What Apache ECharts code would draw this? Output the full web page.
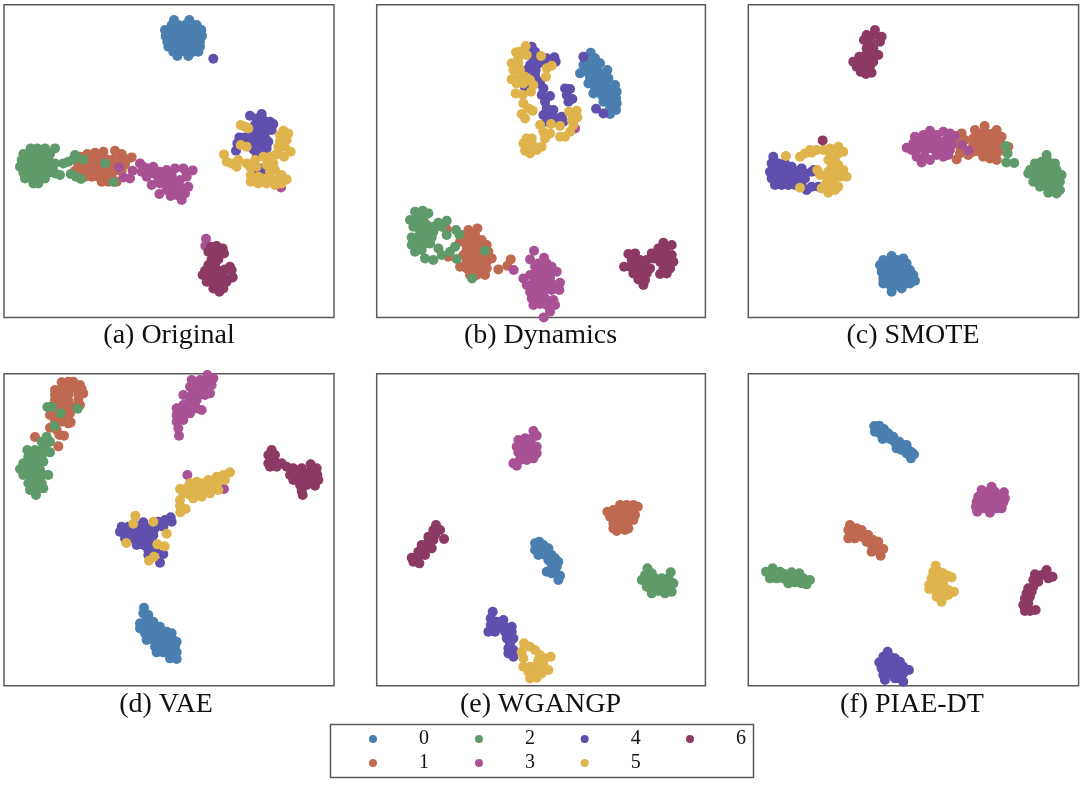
<!DOCTYPE html>
<html><head><meta charset="utf-8">
<style>html,body{margin:0;padding:0;background:#fff}#c{width:1080px;height:786px}</style>
<script src="https://cdn.jsdelivr.net/npm/echarts@6/dist/echarts.min.js"></script>
</head><body><div id="c"></div>
<script>
const classNames=['0','1','2','3','4','5','6'];
const classColors=['#4A7FB0','#BF6A50','#5F9A6B','#A95195','#604FAD','#E0B44C','#8C3A64'];
const captions=['(a) Original','(b) Dynamics','(c) SMOTE','(d) VAE','(e) WGANGP','(f) PIAE-DT'];

// t-SNE embedding positions, per panel and class (x,y pairs)
const a0=[522,60,568,60,515,75,535,75,555,75,575,75,590,75,495,90,512,90,530,90,550,90,570,90,590,90,604,90,497,108,515,108,535,108,555,108,575,108,595,108,606,108,502,125,520,125,540,125,560,125,580,125,600,125,505,140,520,140,540,140,560,140,580,140,600,140,520,155,540,155,560,155,580,155,595,155,532,168,565,168];
const a1=[240,470,262,462,285,458,310,455,345,452,365,462,395,472,260,478,280,478,300,478,320,478,340,478,360,478,380,478,235,495,255,495,275,495,295,495,315,495,335,495,355,495,375,495,225,512,245,512,265,512,285,512,305,512,325,512,345,512,365,512,255,530,275,530,295,530,315,530,335,530,305,545,325,545,350,545];
const a2=[92,445,112,445,135,445,165,445,70,462,90,462,110,462,130,462,150,462,65,480,85,480,105,480,125,480,145,480,60,500,80,500,100,500,120,500,140,500,70,518,90,518,110,518,130,518,145,518,75,535,95,535,115,535,135,535,100,550,115,550,165,490,190,490,205,485,225,465,220,478,250,478,165,520,180,525,212,522,228,530,243,537,316,490,341,546,160,512];
const a3=[357,502,398,512,370,532,390,535,420,490,430,500,425,515,445,505,460,500,440,530,460,520,480,515,455,555,478,582,475,535,495,530,515,525,500,510,525,505,550,505,578,511,560,520,480,550,500,550,520,545,540,540,560,530,500,570,520,565,540,560,565,560,512,588,530,585,545,600,555,580,440,515,843,562,618,716,616,738];
const a4=[640,176,750,347,785,342,770,355,790,360,810,365,765,375,785,378,805,378,820,372,755,395,775,395,795,395,815,390,718,412,735,412,755,412,775,412,795,412,712,430,730,430,750,430,770,430,790,430,805,425,708,452,760,448,780,448,800,445,770,460,790,458,780,505,765,515,790,515];
const a5=[735,380,722,375,745,385,850,392,865,400,840,405,860,420,840,425,855,440,835,440,872,455,852,470,835,460,722,435,740,440,672,463,680,485,695,490,715,480,710,500,740,490,750,500,765,480,790,470,810,470,825,465,770,500,800,495,820,490,825,510,810,515,845,525,860,538,752,525,752,545,775,530,790,535,810,535,830,540,845,550,775,550,800,550,825,555];
const a6=[633,740,650,738,668,745,625,755,640,760,660,760,672,760,635,778,655,778,625,795,645,795,690,800,675,808,615,812,635,812,655,812,675,812,695,810,608,825,630,830,650,830,670,830,698,832,620,845,640,848,660,848,680,845,640,865,658,875,670,865];

const b0=[662,158,650,175,675,175,690,190,640,195,660,195,680,205,630,220,650,215,670,220,690,220,712,210,660,232,700,226,655,250,675,240,695,240,715,235,735,255,680,250,670,280,690,260,710,260,740,275,675,265,700,275,725,270,695,285,715,285,738,295,700,305,720,305,740,310,720,325,738,330,720,342];
const b1=[230,688,295,690,322,685,275,705,295,705,315,705,335,720,270,725,290,725,310,725,350,735,330,730,290,745,310,745,330,745,355,755,280,765,300,765,320,765,340,765,365,775,235,770,270,800,290,785,310,785,330,785,350,785,290,805,310,805,330,805,350,805,385,808,300,825,320,825,345,825,412,797,422,778];
const b2=[135,635,158,632,175,640,120,660,140,655,160,655,205,668,230,662,130,680,150,675,170,675,190,680,215,680,150,695,170,695,190,695,125,712,145,712,165,712,185,712,230,705,258,690,268,703,125,735,145,730,165,730,180,730,135,755,155,750,165,775,190,780,205,745,215,765,240,755,255,740,260,777,345,752,306,835];
const b3=[615,385,431,810,492,752,480,778,522,773,505,790,530,790,545,800,495,800,515,810,540,815,560,815,460,835,480,825,500,825,520,830,540,835,570,848,470,855,490,850,510,850,530,855,550,855,480,875,500,875,520,875,545,870,568,870,485,895,505,895,525,895,550,900,490,915,510,912,530,915,555,915,540,935,521,952];
const b4=[640,170,678,326,700,340,485,140,495,155,490,175,505,190,497,210,480,195,495,225,553,172,557,185,530,175,525,190,500,240,510,250,520,265,515,285,540,288,465,262,470,210,525,305,530,325,550,330,520,345,540,345,560,355,575,350,530,365,550,365,585,265,600,267,590,285,607,297,595,305,580,365];
const b5=[467,138,450,155,438,157,470,165,445,175,425,190,445,190,430,210,450,210,425,238,445,235,465,230,480,240,490,255,440,250,460,250,483,275,437,280,458,285,513,168,545,197,530,205,528,230,460,310,475,325,488,332,455,342,465,355,597,335,620,332,622,352,605,360,610,375,600,395,585,410,570,410,543,372,570,378,510,375,520,395,540,400,525,415,470,415,485,415,460,430,480,430,495,440,515,440,465,452,480,460,500,450];
const b6=[880,728,905,735,865,745,885,750,775,762,795,760,845,760,865,765,885,768,905,765,785,780,810,780,830,780,850,775,895,785,910,785,870,785,762,800,780,800,800,800,820,800,880,805,900,805,790,820,810,820,830,820,870,822,890,820,805,838,825,840,820,855,840,805];

const c0=[455,768,430,780,450,785,470,780,490,775,420,795,440,800,460,800,480,795,500,790,510,810,425,815,445,820,465,820,485,815,505,820,520,825,430,835,450,840,470,835,490,835,510,835,525,842,430,850,450,855,470,855,490,855,510,850,455,875,485,865];
const c1=[734,378,705,390,770,390,665,400,720,400,740,400,760,400,785,410,650,418,675,420,700,415,720,420,740,420,760,420,640,430,780,430,700,435,720,440,740,440,760,440,805,440,660,460,685,465,700,455,720,455,740,455,760,455,775,455,650,478,730,470,750,475,770,480,660,440];
const c2=[797,438,803,460,799,487,823,489,920,465,885,490,905,485,925,485,945,490,870,510,890,505,910,505,930,505,950,510,865,520,885,525,905,525,925,525,945,525,965,525,880,545,900,545,920,545,940,545,960,545,900,560,920,560,940,565,960,570,925,578,950,580];
const c3=[570,392,525,410,550,405,570,410,590,405,610,395,630,400,645,408,500,443,520,430,540,425,560,430,580,425,600,425,620,420,635,430,515,450,535,445,555,450,575,445,595,445,615,445,630,450,530,470,545,487,570,480,555,470,590,465,610,470,625,465,667,435,686,451];
const c4=[100,470,95,490,115,490,135,490,155,500,185,505,90,515,110,510,130,510,150,515,170,515,195,520,215,515,95,535,115,530,135,530,155,535,175,535,195,535,105,555,125,555,145,555,165,555,185,555,200,570,215,560,235,560,222,510];
const c5=[210,450,230,450,250,450,270,445,295,440,180,470,195,460,215,458,270,460,295,460,310,455,138,468,265,480,285,480,275,500,295,495,232,510,240,525,265,515,285,515,310,510,320,530,262,535,282,535,300,530,255,555,275,555,295,560,265,578,285,570,180,563,245,565];
const c6=[405,90,380,105,400,105,425,110,372,120,392,125,420,125,380,145,400,145,415,165,358,170,378,165,398,165,340,185,360,185,380,185,400,185,350,200,370,200,390,200,362,215,378,222,395,218,248,421];

const d0=[432,728,430,745,445,750,440,765,460,770,420,775,440,785,460,785,480,785,500,800,420,790,435,805,455,805,475,805,495,805,515,805,440,825,460,825,480,825,500,825,520,825,530,830,465,845,485,845,505,845,525,845,470,862,490,862,510,862,530,862,510,880,530,882];
const d1=[185,52,205,50,220,50,240,60,165,75,185,70,205,70,225,70,245,72,250,85,165,90,185,90,205,90,235,90,165,105,185,108,205,108,235,105,240,120,155,125,175,125,195,125,215,125,150,150,170,150,190,150,210,145,165,170,185,170,205,175,212,172,150,188,170,195,178,210,192,212,105,216,175,244];
const d2=[142,126,155,126,182,145,233,131,164,183,140,215,150,230,125,230,135,245,82,255,105,255,125,255,150,262,85,275,105,275,125,275,70,295,90,295,110,295,130,290,60,312,80,315,100,315,120,315,70,330,90,335,110,335,130,330,145,330,85,355,105,355,125,355,90,375,110,375,130,370,108,390];
const d3=[622,30,640,40,575,45,600,45,620,50,635,60,570,65,590,65,610,70,630,85,550,90,575,90,595,90,615,90,570,105,590,105,530,130,550,120,570,125,590,130,605,135,530,150,550,145,570,145,530,170,550,165,535,190,537,212,562,330,672,372];
const d4=[512,457,495,465,515,470,475,470,490,485,430,472,365,485,385,485,405,480,425,490,445,490,465,490,360,500,380,505,400,505,420,505,440,505,460,510,375,520,395,520,415,520,435,520,455,525,410,540,430,540,450,540,445,555,465,555,490,567,445,570,480,593];
const d5=[690,322,670,330,650,335,625,345,675,345,655,350,635,350,570,355,590,350,610,355,540,372,560,370,580,370,600,370,620,370,640,365,655,375,550,385,570,390,590,390,605,395,630,385,580,400,540,405,540,422,557,432,541,442,406,452,400,476,460,470,500,506,379,534,472,538,494,544,462,575,447,587];
const d6=[815,255,805,270,825,270,805,295,825,290,845,295,810,305,830,305,860,305,880,310,905,310,932,298,950,310,870,330,890,325,910,325,930,320,952,330,880,345,900,345,920,345,940,345,955,345,900,360,920,360,945,362,905,378,908,390];

const e0=[508,530,495,535,520,540,495,555,515,555,535,550,505,570,525,570,545,570,535,585,555,580,565,590,545,600,560,605,530,620,550,620,570,632,565,645,545,625];
const e1=[750,420,770,420,790,420,803,425,712,440,730,435,750,435,770,435,790,435,720,455,740,455,760,455,780,455,795,450,730,475,750,475,770,475,790,465,730,490,740,498,765,495,775,490];
const e2=[832,610,845,625,825,630,902,622,815,645,835,645,855,640,875,640,895,640,910,655,830,665,850,660,870,660,890,660,845,685,865,678,885,685,905,680];
const e3=[490,198,500,212,445,225,465,220,485,220,440,245,460,240,480,240,500,245,445,262,465,260,485,262,500,265,430,295,450,285,470,285,490,280,440,302];
const e4=[368,740,362,760,380,770,400,765,362,780,385,785,405,785,425,785,355,800,375,800,405,800,425,800,410,820,430,820,420,835,415,850,430,855,415,865,430,875];
const e5=[462,835,480,845,495,855,455,860,510,870,460,880,542,875,525,880,505,885,460,905,480,905,500,900,520,900,535,915,475,920,495,920,515,925,480,940,500,938,510,885];
const e6=[198,480,210,495,190,495,175,515,195,510,222,522,155,540,175,530,190,525,145,560,165,555,185,550,125,578,145,575,165,570,130,590,148,595];

const f0=[403,183,418,182,432,192,405,200,420,205,435,205,428,222,445,205,460,215,450,222,465,232,478,230,470,250,488,240,500,240,485,255,505,255,515,262,500,265,522,268,513,280];
const f1=[330,480,350,490,325,495,345,505,365,495,325,520,345,520,365,515,385,510,380,530,400,525,395,540,415,530,430,552,410,555,395,560,422,572];
const f2=[98,610,78,620,100,625,120,620,135,628,155,622,178,625,90,640,110,640,130,640,150,635,170,640,190,640,210,645,145,655,165,652,185,655,200,658];
const f3=[755,365,725,375,745,380,765,380,792,382,715,395,735,395,755,395,775,395,795,400,710,410,730,412,750,412,770,412,790,412,708,425,730,430,750,430,770,430,785,430,712,440,750,443];
const f4=[443,860,430,875,450,875,465,880,418,892,438,892,458,892,480,890,425,910,445,910,465,910,490,905,507,915,430,930,450,925,470,925,490,925,435,945,465,940,490,950,478,940];
const f5=[587,602,580,620,597,620,610,625,625,632,635,637,575,640,595,640,615,640,568,660,590,655,610,660,568,672,585,675,605,675,625,675,642,680,590,695,610,695,625,690,605,710];
const f6=[920,615,938,635,885,628,905,630,925,640,880,645,895,650,865,670,880,665,860,685,875,680,855,700,870,695,850,720,865,715,855,738,870,738,887,735];

const panelData=[[a0,a1,a2,a3,a4,a5,a6],[b0,b1,b2,b3,b4,b5,b6],[c0,c1,c2,c3,c4,c5,c6],[d0,d1,d2,d3,d4,d5,d6],[e0,e1,e2,e3,e4,e5,e6],[f0,f1,f2,f3,f4,f5,f6]];

const frames=[
 {left:4,top:4.7,width:330,height:312.7,x:[12,1002],y:[14,952],cx:169},
 {left:376.7,top:4.7,width:328.7,height:312.7,x:[20,1006],y:[14,952],cx:540.5},
 {left:748.3,top:4.7,width:330.3,height:312.7,x:[25,1016],y:[14,952],cx:913},
 {left:4,top:373.7,width:330,height:312,x:[12,1002],y:[26,962],cx:166},
 {left:376.7,top:373.7,width:328.7,height:312,x:[20,1006],y:[26,962],cx:540.5},
 {left:748.3,top:373.7,width:330.3,height:312,x:[25,1016],y:[26,962],cx:912}];
const captionY=[336,336,336,705,705,705];

const pairs=f=>{const o=[];for(let i=0;i<f.length;i+=2)o.push([f[i],f[i+1]]);return o;};
const grid=[],xAxis=[],yAxis=[],series=[],title=[];
frames.forEach((f,p)=>{
  grid.push({show:true,left:f.left,top:f.top,width:f.width,height:f.height,borderColor:'#5a5a5a',borderWidth:1.5,backgroundColor:'#fff'});
  xAxis.push({type:'value',gridIndex:p,min:f.x[0],max:f.x[1],show:false});
  yAxis.push({type:'value',gridIndex:p,min:f.y[0],max:f.y[1],inverse:true,show:false});
  title.push({text:captions[p],left:f.cx,top:captionY[p],padding:0,textAlign:'center',textVerticalAlign:'middle',
    textStyle:{fontFamily:'Liberation Serif',fontSize:28,fontWeight:'normal',color:'#111'}});
  panelData[p].forEach((d,k)=>series.push({type:'scatter',name:classNames[k],xAxisIndex:p,yAxisIndex:p,clip:false,
    symbol:'circle',symbolSize:10,data:pairs(d),itemStyle:{color:classColors[k],opacity:1},silent:true}));
});
const legendCols=[[['0','1'],369],[['2','3'],475],[['4','5'],580.7],[['6'],686]];
const legend=legendCols.map(c=>({data:c[0],orient:'vertical',left:c[1],top:729,padding:0,itemWidth:8,itemHeight:8,itemGap:4,
  selectedMode:false,icon:'circle',textStyle:{fontFamily:'Liberation Serif',fontSize:20,color:'#111',lineHeight:20,padding:[0,0,0,37]}}));
const chart=echarts.init(document.getElementById('c'),null,{renderer:'canvas'});
chart.setOption({animation:false,backgroundColor:'#fff',grid,xAxis,yAxis,series,title,legend,
  graphic:[{type:'rect',left:328,top:722,shape:{width:423,height:53},style:{fill:'none',stroke:'#5a5a5a',lineWidth:1.5},silent:true}]});
</script></body></html>
